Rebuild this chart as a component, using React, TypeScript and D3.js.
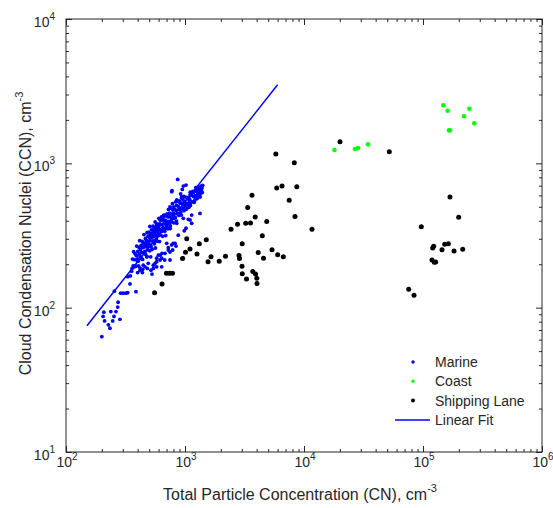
import { useEffect, useRef } from "react";
import * as d3 from "d3";

// [CN, CCN] pairs (cm^-3)
const marine: [number, number][] = [
  // lower tail and scatter below the fit
  [200, 63], [211, 81], [205, 87], [208, 93], [234, 72], [227, 76], [247, 81], [253, 87],
  [238, 94], [263, 94], [284, 83], [272, 101], [274, 109], [255, 130], [288, 126], [303, 126],
  [319, 126], [330, 127], [387, 129], [345, 146], [330, 164], [347, 166], [356, 179], [359, 187],
  [375, 192], [400, 175], [419, 182], [438, 175], [446, 197], [482, 187], [518, 182], [528, 171],
  [491, 203], [542, 197], [477, 225], [515, 225], [578, 208], [617, 214], [641, 238], [597, 231],
  [637, 192], [748, 243], [675, 214], [748, 214], [773, 272], [840, 267], [724, 260], [679, 238],
  [578, 220], [560, 203], [461, 192], [441, 184], [542, 187], [968, 220], [788, 251], [702, 279],
  [824, 279], [617, 231], [637, 220], [1066, 409], [1138, 384], [986, 341], [797, 279], [878, 318],
  [724, 251], [578, 192], [419, 188],
  // core, on the fit line
  [385, 193], [398, 211], [407, 195], [426, 222], [440, 216], [453, 240], [467, 234], [480, 226],
  [494, 267], [506, 248], [516, 268], [530, 254], [545, 289], [553, 277], [564, 259], [575, 299],
  [588, 288], [601, 325], [611, 287], [624, 318], [638, 338], [649, 312], [661, 344], [676, 338],
  [688, 316], [700, 371], [718, 352], [735, 382], [752, 353], [770, 393], [789, 418], [806, 387],
  [828, 422], [847, 398], [866, 450], [889, 436], [910, 482], [932, 438], [955, 487], [980, 470],
  [1002, 501], [1030, 484], [1055, 517], [1085, 553], [1110, 511],
  // core, bottom end
  [362, 217], [367, 195], [370, 244], [377, 215], [381, 236], [383, 195], [390, 230], [393, 267],
  [397, 218], [401, 245], [404, 210], [410, 262], [413, 235], [416, 291], [420, 227], [422, 253],
  [428, 270], [431, 241], [434, 217], [437, 288], [443, 261], [446, 277], [449, 242], [452, 321],
  [456, 264], [459, 280],
  // core, middle
  [462, 245], [465, 302], [468, 276], [473, 293], [474, 265], [479, 331], [483, 290], [485, 252],
  [489, 313], [492, 285], [497, 333], [500, 275], [503, 307], [507, 365], [510, 291], [513, 323],
  [518, 264], [521, 313], [524, 346], [527, 306], [533, 330], [536, 289], [539, 367], [543, 326],
  [546, 311], [549, 351], [555, 289], [558, 340], [561, 393], [566, 334], [569, 358], [572, 315],
  [578, 381], [582, 349], [586, 334], [590, 378], [594, 315], [599, 365], [603, 416], [607, 352],
  [613, 380], [617, 346], [621, 404], [626, 376], [631, 341], [635, 425], [641, 378], [646, 407],
  [652, 359], [657, 401], [663, 438], [668, 381], [674, 404], [679, 353], [685, 438], [690, 400],
  [696, 432],
  // core, upper
  [703, 387], [709, 447], [714, 357], [720, 425], [727, 480], [733, 396], [740, 451], [747, 426],
  [753, 369], [761, 487], [768, 445], [776, 411], [784, 525], [791, 475], [799, 439], [807, 500],
  [816, 416], [824, 478], [833, 541], [842, 472], [851, 511], [861, 448], [870, 548], [880, 502],
  [891, 481], [901, 550], [912, 529], [923, 462], [935, 580], [946, 530], [958, 565], [971, 515],
  [984, 590], [996, 548],
  // core, top end
  [1008, 524], [1021, 480], [1035, 580], [1049, 525], [1062, 573], [1078, 496], [1091, 567],
  [1107, 631], [1119, 548], [1136, 602], [1148, 540], [1163, 640], [1178, 589], [1192, 536],
  [1206, 639], [1219, 597], [1233, 678], [1247, 586], [1258, 642], [1266, 570], [1274, 675],
  [1283, 616], [1292, 646], [1301, 598], [1308, 680], [1317, 619], [1326, 663], [1334, 587],
  [1343, 658], [1352, 622], [1361, 694], [1372, 645], [1384, 678], [1396, 628], [1408, 704],
  [1244, 647], [1229, 590], [1288, 683], [1312, 643], [1271, 636], [1337, 642],
  // upper scatter
  [868, 774], [968, 696], [1020, 707], [1102, 603], [1174, 626], [773, 636], [920, 613], [968, 587],
  [1254, 653], [1294, 603], [1337, 587], [1381, 671], [1213, 557], [1102, 528], [938, 528],
  [852, 557], [748, 500], [1033, 488], [968, 416], [1102, 405], [1138, 438], [1337, 450], [797, 450],
  [908, 450], [657, 426], [578, 374], [702, 384], [852, 384], [1020, 355], [778, 646], [949, 660],
];

const coast: [number, number][] = [
  [18040, 1236], [26830, 1256], [28430, 1276], [34500, 1354], [148200, 2523], [161300, 2315],
  [165400, 1693], [168600, 1693], [221000, 2117], [245000, 2389], [269900, 1893],
];

const shippingLane: [number, number][] = [
  [555, 127], [641, 146], [699, 173], [741, 173], [785, 173], [953, 219], [1010, 242], [1034, 300],
  [1102, 255], [1261, 235], [1319, 277], [1510, 296], [1561, 208], [1654, 225], [1939, 210],
  [2189, 227], [2436, 349], [2762, 378], [2843, 230], [2871, 219], [3013, 194], [3025, 277],
  [3030, 172], [3236, 384], [3287, 158], [3365, 494], [3552, 386], [3656, 600], [3713, 178],
  [3890, 425], [3913, 171], [4013, 160], [4027, 147], [4122, 241], [4463, 315], [4568, 220],
  [4860, 395], [5384, 252], [5794, 1160], [5896, 674], [6011, 233], [6534, 696], [6701, 225],
  [7508, 554], [8287, 1008], [8401, 428], [8700, 687], [11670, 349], [20070, 1411], [52110, 1203],
  [75840, 134], [84030, 122], [96760, 364], [119000, 214], [120600, 259], [123000, 266],
  [124500, 206], [127900, 207], [144400, 252], [152200, 275], [163200, 277], [168600, 584],
  [182200, 247], [199500, 423], [215600, 254],
];

// end points of the linear fit
const linearFit: [number, number][] = [[150, 75], [6000, 3500]];

const xExponents = [2, 3, 4, 5, 6];
const yExponents = [1, 2, 3, 4];
const legendLabels = ["Marine", "Coast", "Shipping Lane", "Linear Fit"];

const W = 553,
  H = 508;
const margin = { top: 19, right: 11, bottom: 56, left: 66 };
const width = W - margin.left - margin.right;
const height = H - margin.top - margin.bottom;
const axisColor = "#262626";
const font = "'Liberation Sans', Arial, sans-serif";

export default function App() {
  const ref = useRef<SVGSVGElement>(null);

  useEffect(() => {
    const svg = d3.select(ref.current);
    svg.selectAll("*").remove();

    const g = svg
      .append("g")
      .attr("transform", `translate(${margin.left},${margin.top})`);

    const x = d3.scaleLog().domain([1e2, 1e6]).range([0, width]);
    const y = d3.scaleLog().domain([1e1, 1e4]).range([height, 0]);

    const isMajor = (t: number) =>
      Math.abs(Math.log10(t) - Math.round(Math.log10(t))) < 1e-6;
    const xMajor = xExponents.map((e) => Math.pow(10, e));
    const yMajor = yExponents.map((e) => Math.pow(10, e));
    const xMinor = x.ticks().filter((t) => !isMajor(t));
    const yMinor = y.ticks().filter((t) => !isMajor(t));

    // ticks on all four sides, pointing inward
    const addAxis = (gen: any, vals: number[], size: number, tr: string) => {
      g.append("g")
        .attr("transform", tr)
        .attr("color", axisColor)
        .call(gen.tickValues(vals).tickSize(-size).tickSizeOuter(0).tickFormat(() => ""))
        .call((a: any) => a.select(".domain").remove());
    };
    addAxis(d3.axisBottom(x), xMajor, 6, `translate(0,${height})`);
    addAxis(d3.axisBottom(x), xMinor, 3, `translate(0,${height})`);
    addAxis(d3.axisTop(x), xMajor, 6, "translate(0,0)");
    addAxis(d3.axisTop(x), xMinor, 3, "translate(0,0)");
    addAxis(d3.axisLeft(y), yMajor, 6, "translate(0,0)");
    addAxis(d3.axisLeft(y), yMinor, 3, "translate(0,0)");
    addAxis(d3.axisRight(y), yMajor, 6, `translate(${width},0)`);
    addAxis(d3.axisRight(y), yMinor, 3, `translate(${width},0)`);

    g.append("rect")
      .attr("width", width)
      .attr("height", height)
      .attr("fill", "none")
      .attr("stroke", axisColor)
      .attr("stroke-width", 1);

    // tick labels with superscript exponents
    const xl = g
      .selectAll(".xlab")
      .data(xExponents)
      .enter()
      .append("text")
      .attr("x", (e) => x(Math.pow(10, e)) + 1)
      .attr("y", height + 15)
      .attr("text-anchor", "middle")
      .attr("fill", axisColor)
      .style("font", `14px ${font}`);
    xl.append("tspan").text("10");
    xl.append("tspan").attr("dy", -7).style("font-size", "10px").text((e) => e);

    const yl = g
      .selectAll(".ylab")
      .data(yExponents)
      .enter()
      .append("text")
      .attr("x", -11)
      .attr("y", (e) => y(Math.pow(10, e)) + 8)
      .attr("text-anchor", "end")
      .attr("fill", axisColor)
      .style("font", `14px ${font}`);
    yl.append("tspan").text("10");
    yl.append("tspan").attr("dy", -7).style("font-size", "10px").text((e) => e);

    // axis titles
    const xt = g
      .append("text")
      .attr("x", width / 2 - 4)
      .attr("y", height + 48)
      .attr("text-anchor", "middle")
      .attr("fill", axisColor)
      .style("font", `16px ${font}`);
    xt.append("tspan").text("Total Particle Concentration (CN), cm");
    xt.append("tspan").attr("dy", -8).style("font-size", "11px").text("-3");

    const yt = g
      .append("text")
      .attr("transform", "rotate(-90)")
      .attr("x", -height / 2 + 2)
      .attr("y", -35)
      .attr("text-anchor", "middle")
      .attr("fill", axisColor)
      .style("font", `16px ${font}`);
    yt.append("tspan").text("Cloud Condensation Nuclei (CCN), cm");
    yt.append("tspan").attr("dy", -8).style("font-size", "11px").text("-3");

    // fit line first, markers drawn over it
    g.append("path")
      .datum(linearFit)
      .attr("fill", "none")
      .attr("stroke", "#0000ff")
      .attr("stroke-width", 1.5)
      .attr(
        "d",
        d3
          .line<[number, number]>()
          .x((d) => x(d[0]))
          .y((d) => y(d[1]))
      );

    const dots = (data: [number, number][], color: string, r: number) =>
      g
        .append("g")
        .selectAll("circle")
        .data(data)
        .enter()
        .append("circle")
        .attr("cx", (d) => x(d[0]))
        .attr("cy", (d) => y(d[1]))
        .attr("r", r)
        .attr("fill", color);

    dots(marine, "#0000ff", 1.9);
    dots(coast, "#00ff00", 2.3);
    dots(shippingLane, "#000000", 2.5);

    // legend (no box)
    const legend = g.append("g").attr("transform", "translate(347,343)");
    const colors = ["#0000ff", "#00ff00", "#000000"];
    legendLabels.forEach((label, i) => {
      const ly = i * 19.3;
      if (i < 3) {
        legend
          .append("circle")
          .attr("cx", 0)
          .attr("cy", ly)
          .attr("r", i === 2 ? 2 : 1.7)
          .attr("fill", colors[i]);
      } else {
        legend
          .append("line")
          .attr("x1", -18)
          .attr("x2", 17)
          .attr("y1", ly)
          .attr("y2", ly)
          .attr("stroke", "#0000ff")
          .attr("stroke-width", 1.5);
      }
      legend
        .append("text")
        .attr("x", 22)
        .attr("y", ly + 5)
        .attr("fill", axisColor)
        .style("font", `14px ${font}`)
        .text(label);
    });
  }, []);

  return (
    <svg
      ref={ref}
      width={W}
      height={H}
      style={{ position: "absolute", left: 0, top: 0, background: "#fff" }}
    />
  );
}
